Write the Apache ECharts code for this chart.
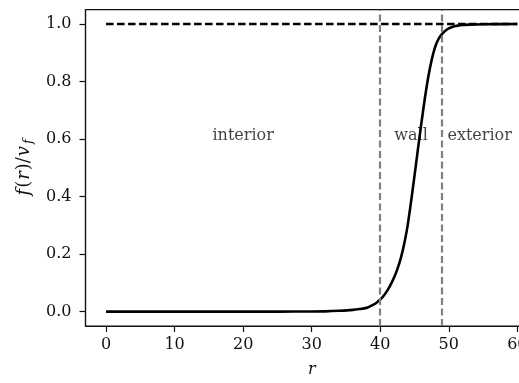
<!DOCTYPE html>
<html>
<head>
<meta charset="utf-8">
<script src="https://cdn.jsdelivr.net/npm/echarts@6/dist/echarts.min.js"></script>
<style>html,body{margin:0;padding:0;background:#fff;overflow:hidden;}#c{width:541px;height:383px;}</style>
</head>
<body>
<div id="c"></div>
<script>
// ---- data ----
const xTicks = [0, 10, 20, 30, 40, 50, 60];
const yTicks = [0.0, 0.2, 0.4, 0.6, 0.8, 1.0];
const rValues = [0, 5, 10, 15, 20, 25, 30, 32, 34, 36, 37, 38, 38.5, 39, 39.5, 40, 40.5, 41, 41.5, 42, 42.5, 43, 43.5, 44, 44.5, 45, 45.5, 46, 46.5, 47, 47.5, 48, 48.5, 49, 49.5, 50, 50.5, 51, 51.5, 52, 53, 55, 60];
const fValues = [0, 0, 0, 0, 0, 0, 0.0005, 0.001, 0.003, 0.006, 0.009, 0.013, 0.018, 0.024, 0.032, 0.042, 0.055, 0.072, 0.093, 0.118, 0.148, 0.186, 0.236, 0.30, 0.383, 0.473, 0.565, 0.655, 0.74, 0.815, 0.875, 0.92, 0.948, 0.965, 0.977, 0.985, 0.99, 0.993, 0.995, 0.997, 0.998, 0.999, 1.0];
const refLineX = [0, 60];
const refLineY = [1.0, 1.0];
const wallBounds = [40, 49];
const regionNames = ['interior', 'wall', 'exterior'];
const regionX = [20, 44.5, 54.5];
const regionY = [0.61, 0.61, 0.61];

const FONT = 'DejaVu Serif';
const curve = rValues.map((r, i) => [r, fValues[i]]);
const refLine = refLineX.map((x, i) => [x, refLineY[i]]);
const labels = regionNames.map((n, i) => ({ name: n, value: [regionX[i], regionY[i]] }));

const chart = echarts.init(document.getElementById('c'), null, { renderer: 'canvas' });
chart.setOption({
  animation: false,
  backgroundColor: '#fff',
  grid: { left: 85.5, right: 3.1, top: 9.65, bottom: 51.05, show: true, borderColor: '#111', borderWidth: 1.2, backgroundColor: 'transparent' },
  xAxis: {
    type: 'value', min: -3, max: 63,
    name: 'r', nameLocation: 'middle', nameGap: 36,
    nameTextStyle: { fontFamily: FONT, fontStyle: 'italic', fontSize: 16, color: '#111' },
    axisLine: { show: true, onZero: false, lineStyle: { color: '#111', width: 1.2 } },
    axisTick: { show: true, customValues: xTicks, length: 6, lineStyle: { color: '#111', width: 1.2 } },
    axisLabel: { customValues: xTicks, margin: 11, fontFamily: FONT, fontSize: 16, color: '#111', formatter: v => String(v) },
    splitLine: { show: false }
  },
  yAxis: {
    type: 'value', min: -0.05, max: 1.05,
    name: '{a|f}{u|(}{a|r}{u|)/}{a|v}{s|f}', nameLocation: 'middle', nameGap: 50, nameRotate: 90,
    nameTextStyle: {
      rich: {
        a: { fontFamily: FONT, fontStyle: 'italic', fontSize: 18, color: '#111', padding: [0, 1, 0, 1] },
        u: { fontFamily: FONT, fontSize: 18, color: '#111' },
        s: { fontFamily: FONT, fontStyle: 'italic', fontSize: 13, color: '#111', verticalAlign: 'bottom', padding: [8, 0, 0, 1] }
      }
    },
    axisLine: { show: true, onZero: false, lineStyle: { color: '#111', width: 1.2 } },
    axisTick: { show: true, customValues: yTicks, length: 6, lineStyle: { color: '#111', width: 1.2 } },
    axisLabel: { customValues: yTicks, margin: 14, fontFamily: FONT, fontSize: 16, color: '#111', formatter: v => v.toFixed(1) },
    splitLine: { show: false }
  },
  series: [
    {
      type: 'line', data: [], z: 1, silent: true,
      markLine: {
        silent: true, symbol: 'none', animation: false,
        label: { show: false },
        lineStyle: { color: '#808080', width: 2.2, type: [7, 3.5] },
        data: wallBounds.map(x => ({ xAxis: x }))
      }
    },
    {
      type: 'line', data: refLine, showSymbol: false, z: 2, silent: true,
      lineStyle: { color: '#000', width: 2.5, type: [7.5, 3.5] }
    },
    {
      type: 'line', data: curve, showSymbol: false, smooth: 0.25, z: 3, silent: true,
      lineStyle: { color: '#000', width: 2.6 }
    },
    {
      type: 'scatter', data: labels, symbolSize: 0, z: 2, silent: true,
      label: { show: true, position: 'inside', formatter: p => p.name, fontFamily: FONT, fontSize: 16, color: '#111' }
    }
  ]
});
</script>
</body>
</html>
